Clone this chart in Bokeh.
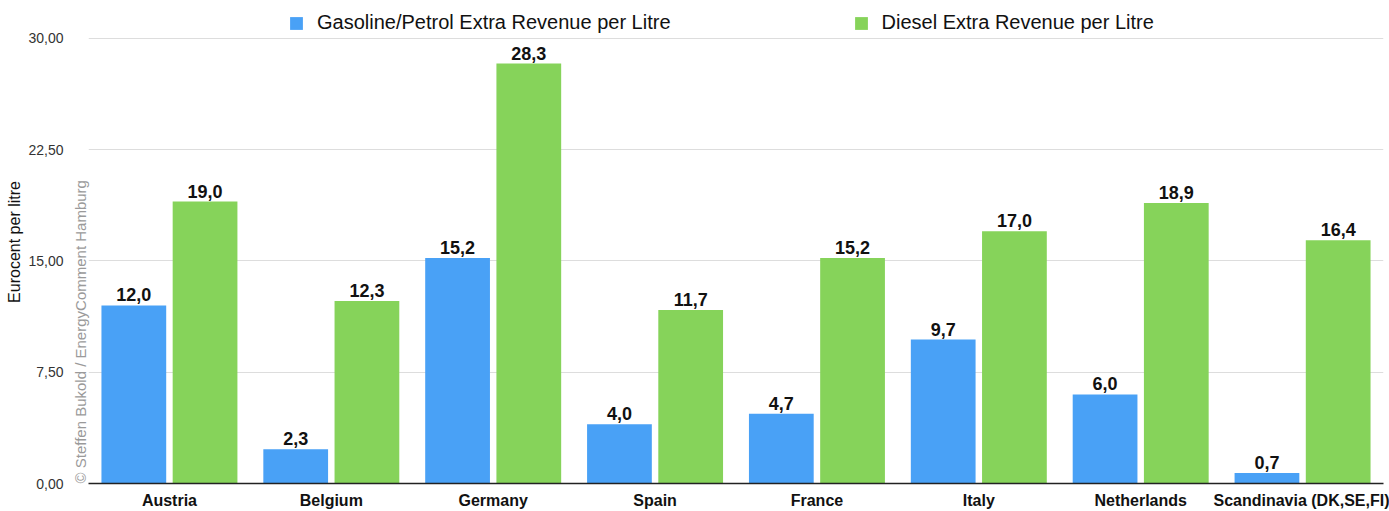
import math
from bokeh.plotting import figure
from bokeh.models import ColumnDataSource, FactorRange, FixedTicker, Legend, LegendItem, Title
from bokeh.transform import dodge
from bokeh.core.properties import value
from bokeh.embed import file_html
from bokeh.resources import INLINE

countries = ["Austria", "Belgium", "Germany", "Spain", "France", "Italy",
             "Netherlands", "Scandinavia (DK,SE,FI)"]
gasoline = [12.0, 2.3, 15.2, 4.0, 4.7, 9.7, 6.0, 0.7]
diesel = [19.0, 12.3, 28.3, 11.7, 15.2, 17.0, 18.9, 16.4]
y_ticks = [0, 7.5, 15, 22.5, 30]
y_tick_labels = ["0,00", "7,50", "15,00", "22,50", "30,00"]
series_names = ["Gasoline/Petrol Extra Revenue per Litre", "Diesel Extra Revenue per Litre"]

BLUE = "#49a1f6"
GREEN = "#86d35a"
FONT = "Liberation Sans"

def fmt(v):
    return f"{v:.1f}".replace(".", ",")

src = ColumnDataSource(dict(
    country=countries,
    gas=gasoline,
    dsl=diesel,
    gas_lbl=[fmt(v) for v in gasoline],
    dsl_lbl=[fmt(v) for v in diesel],
))

# top of y range leaves room for the legend above the 30,00 grid line
p = figure(x_range=FactorRange(*countries, range_padding=0), y_range=(0, 32.55),
           width=1389, height=511, output_backend="svg", toolbar_location=None,
           min_border_left=88, min_border_right=6, min_border_top=0, min_border_bottom=27)
p.outline_line_color = None
p.background_fill_color = "white"
p.border_fill_color = "white"

r1 = p.vbar(x=dodge("country", -0.22, range=p.x_range), top="gas", width=0.40,
            source=src, color=BLUE, line_color=None)
r2 = p.vbar(x=dodge("country", 0.22, range=p.x_range), top="dsl", width=0.40,
            source=src, color=GREEN, line_color=None)

for col, off in (("gas_lbl", -0.22), ("dsl_lbl", 0.22)):
    p.text(x=dodge("country", off, range=p.x_range), y=col.replace("_lbl", ""), text=col,
           source=src, text_align="center", text_baseline="bottom", y_offset=-4,
           text_font=value(FONT), text_font_style="bold", text_font_size="18px",
           text_color="#111111")

# axes
p.yaxis.ticker = FixedTicker(ticks=y_ticks)
p.yaxis.major_label_overrides = {t: l for t, l in zip(y_ticks, y_tick_labels)}
p.yaxis.axis_line_color = None
p.yaxis.major_tick_line_color = None
p.yaxis.minor_tick_line_color = None
p.yaxis.major_label_text_font = FONT
p.yaxis.major_label_text_font_size = "14px"
p.yaxis.major_label_text_color = "#333333"
p.yaxis.major_label_standoff = 0
p.yaxis.axis_label = "Eurocent per litre"
p.yaxis.axis_label_text_font = FONT
p.yaxis.axis_label_text_font_size = "16px"
p.yaxis.axis_label_text_font_style = "normal"
p.yaxis.axis_label_text_color = "#111111"
p.yaxis.axis_label_standoff = 2

p.xaxis.axis_line_color = "#222222"
p.xaxis.axis_line_width = 1.5
p.xaxis.major_tick_line_color = None
p.xaxis.minor_tick_line_color = None
p.xaxis.major_label_text_font = FONT
p.xaxis.major_label_text_font_size = "16px"
p.xaxis.major_label_text_font_style = "bold"
p.xaxis.major_label_text_color = "#111111"
p.xaxis.major_label_standoff = 2

p.xgrid.grid_line_color = None
p.ygrid.grid_line_color = "#dddddd"
p.ygrid.grid_line_width = 1

# watermark (vertical, between tick labels and plot area)
wm = Title(text="© Steffen Bukold / EnergyComment Hamburg", align="left",
           text_font=FONT, text_font_size="15px", text_font_style="normal",
           text_color="#9a9a9a", standoff=0, offset=0)
p.left = [wm] + list(p.left)

legend = Legend(items=[LegendItem(label=series_names[0], renderers=[r1]),
                       LegendItem(label=series_names[1], renderers=[r2])],
                orientation="horizontal", location=(200, 449), spacing=182,
                glyph_width=16, glyph_height=16, label_standoff=13,
                label_text_font=FONT, label_text_font_size="20px",
                label_text_color="#111111", padding=0, margin=0,
                border_line_color=None, background_fill_alpha=0)
p.add_layout(legend)

open("out.html", "w").write(file_html(p, INLINE))
